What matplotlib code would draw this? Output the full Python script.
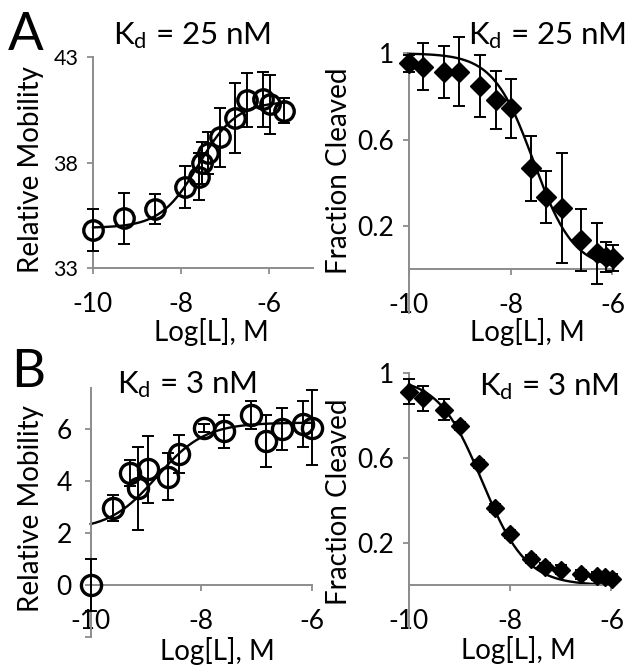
import matplotlib
matplotlib.use("Agg")
import matplotlib.pyplot as plt
import numpy as np

plt.rcParams["font.family"] = ["Lato", "DejaVu Sans"]
plt.rcParams["mathtext.default"] = "regular"

W, H = 632, 667
AXIS_GREY = "#8c8c8c"

# panel A, mobility shift (open circles)
mob_a_x = [-10, -9.29, -8.59, -7.91, -7.58, -7.53, -7.38, -7.11, -6.77, -6.51, -6.13, -5.98, -5.65]
mob_a_y = [34.8, 35.36, 35.8, 36.82, 37.33, 37.96, 38.44, 39.2, 40.1, 40.96, 41.0, 40.77, 40.46]
mob_a_err = [1.0, 1.2, 0.7, 1.0, 1.1, 1.0, 1.0, 1.4, 1.65, 1.3, 1.3, 1.4, 0.6]

# panel A, cleavage (diamonds)
clv_a_x = [-10, -9.71, -9.31, -9.01, -8.61, -8.29, -7.99, -7.60, -7.31, -7.0, -6.61, -6.31, -6.13, -5.98]
clv_a_y = [0.954, 0.938, 0.915, 0.915, 0.849, 0.784, 0.745, 0.467, 0.333, 0.282, 0.136, 0.074, 0.058, 0.051]
clv_a_err = [0.04, 0.11, 0.12, 0.16, 0.145, 0.133, 0.135, 0.15, 0.12, 0.255, 0.145, 0.14, 0.07, 0.06]

# panel B, mobility shift
mob_b_x = [-10, -9.60, -9.29, -9.14, -8.97, -8.60, -8.41, -7.95, -7.59, -7.10, -6.83, -6.53, -6.16, -6.0]
mob_b_y = [0, 2.95, 4.32, 3.72, 4.45, 4.17, 5.04, 6.05, 5.92, 6.54, 5.55, 6.0, 6.19, 6.06]
mob_b_err = [1.0, 0.5, 0.5, 1.6, 1.3, 0.9, 0.72, 0.15, 0.64, 0.55, 1.0, 0.8, 0.88, 1.45]

# panel B, cleavage
clv_b_x = [-10, -9.71, -9.30, -8.99, -8.61, -8.29, -8.01, -7.58, -7.31, -6.99, -6.61, -6.29, -6.13, -5.98]
clv_b_y = [0.913, 0.882, 0.828, 0.751, 0.573, 0.364, 0.241, 0.125, 0.086, 0.074, 0.051, 0.043, 0.040, 0.032]
clv_b_err = [0.06, 0.06, 0.05, 0.02, 0.02, 0.02, 0.02, 0.02, 0.02, 0.02, 0.02, 0.02, 0.02, 0.02]

# fitted curves: (bottom, top, log midpoint, hill, x start, x end)
FIT_MOB_A = (34.9, 40.9, -7.6, 1.0, -10, -5.65)
FIT_CLV_A = (1.0, 0.0, -7.55, 1.1, -10, -6.0)
FIT_MOB_B = (2.1, 6.25, -8.8, 1.0, -10, -6.0)
FIT_CLV_B = (0.98, 0.0, -8.55, 1.0, -10, -6.0)

TICK_SIZE = 19
LABEL_SIZE = 20
TITLE_SIZE = 22.5


def fit_curve(params):
    bottom, top, mid, hill, x0, x1 = params
    xs = np.linspace(x0, x1, 300)
    return xs, bottom + (top - bottom) / (1 + 10 ** (hill * (mid - xs)))


def px_axes(fig, left, top, right, bottom):
    return fig.add_axes([left / W, 1 - bottom / H, (right - left) / W, (bottom - top) / H])


def ftext(fig, x, y, s, **kw):
    fig.text(x / W, 1 - y / H, s, **kw)


def style(ax, xlim, ylim, yticks, ylabels, ysize=TICK_SIZE, ypad=6, xaxis_at=None):
    for side in ("top", "right"):
        ax.spines[side].set_visible(False)
    for side in ("left", "bottom"):
        ax.spines[side].set_color(AXIS_GREY)
        ax.spines[side].set_linewidth(1.4)
    if xaxis_at is not None:
        ax.spines["bottom"].set_position(("data", xaxis_at))
    ax.set_xlim(*xlim)
    ax.set_ylim(*ylim)
    ax.set_xticks([-10, -8, -6])
    ax.set_xticklabels(["-10", "-8", "-6"])
    ax.set_yticks(yticks)
    ax.set_yticklabels(ylabels)
    ax.tick_params(axis="x", direction="out", length=4.5, width=1.3, color=AXIS_GREY,
                   labelsize=TICK_SIZE, pad=12.5)
    ax.tick_params(axis="y", direction="out", length=4.5, width=1.3, color=AXIS_GREY,
                   labelsize=ysize, pad=ypad)
    ax.patch.set_alpha(0)


def draw(ax, x, y, err, fit, marker, ms, filled):
    xs, ys = fit_curve(fit)
    ax.plot(xs, ys, color="black", lw=1.7, zorder=2, clip_on=False)
    ax.errorbar(x, y, yerr=err, fmt="none", ecolor="black", elinewidth=1.4,
                capsize=4, capthick=1.4, zorder=3, clip_on=False)
    ax.plot(x, y, ls="none", marker=marker, ms=ms,
            mfc="black" if filled else "none", mec="black",
            mew=2.4 if not filled else 1.0, zorder=4, clip_on=False)


fig = plt.figure(figsize=(W / 100, H / 100), dpi=100)

ax1 = px_axes(fig, 93, 57, 313, 268)
style(ax1, (-10, -5), (33, 43), [33, 38, 43], ["33", "38", "43"], ysize=15.5)
draw(ax1, mob_a_x, mob_a_y, mob_a_err, FIT_MOB_A, "o", 14, False)

ax2 = px_axes(fig, 408.7, 53.3, 614, 312.5)
style(ax2, (-10, -5.97), (-0.2, 1.0), [0.2, 0.6, 1.0], ["0.2", "0.6", "1"], xaxis_at=0)
draw(ax2, clv_a_x, clv_a_y, clv_a_err, FIT_CLV_A, "D", 10.5, True)

ax3 = px_axes(fig, 90.7, 388.3, 311.7, 637)
style(ax3, (-10, -6), (-2, 7.57), [-2, 0, 2, 4, 6], ["", "0", "2", "4", "6"], ypad=9, xaxis_at=0)
draw(ax3, mob_b_x, mob_b_y, mob_b_err, FIT_MOB_B, "o", 14.5, False)

ax4 = px_axes(fig, 408.7, 373.3, 613, 627.7)
style(ax4, (-10, -5.97), (-0.2, 1.0), [0.2, 0.6, 1.0], ["0.2", "0.6", "1"], xaxis_at=0)
draw(ax4, clv_b_x, clv_b_y, clv_b_err, FIT_CLV_B, "D", 9, True)

# panel letters and titles
ftext(fig, 8, 50, "A", fontsize=38, ha="left", va="baseline")
ftext(fig, 11, 387, "B", fontsize=38, ha="left", va="baseline")
ftext(fig, 192, 44.5, "K$_{d}$ = 25 nM", fontsize=TITLE_SIZE, ha="center", va="baseline")
ftext(fig, 547, 44.5, "K$_{d}$ = 25 nM", fontsize=TITLE_SIZE, ha="center", va="baseline")
ftext(fig, 186.5, 393, "K$_{d}$ = 3 nM", fontsize=TITLE_SIZE, ha="center", va="baseline")
ftext(fig, 548.5, 395, "K$_{d}$ = 3 nM", fontsize=TITLE_SIZE, ha="center", va="baseline")

# axis labels
for x, y, s in [(31, 170, "Relative Mobility"), (339, 171, "Fraction Cleaved"),
                (31, 509, "Relative Mobility"), (339, 502, "Fraction Cleaved")]:
    ftext(fig, x, y, s, fontsize=LABEL_SIZE, rotation=90, ha="center", va="center")
for x, y in [(211, 341), (527, 341), (217, 660), (518, 659)]:
    ftext(fig, x, y, "Log[L], M", fontsize=LABEL_SIZE, ha="center", va="baseline")

fig.savefig("out.png", dpi=100)
